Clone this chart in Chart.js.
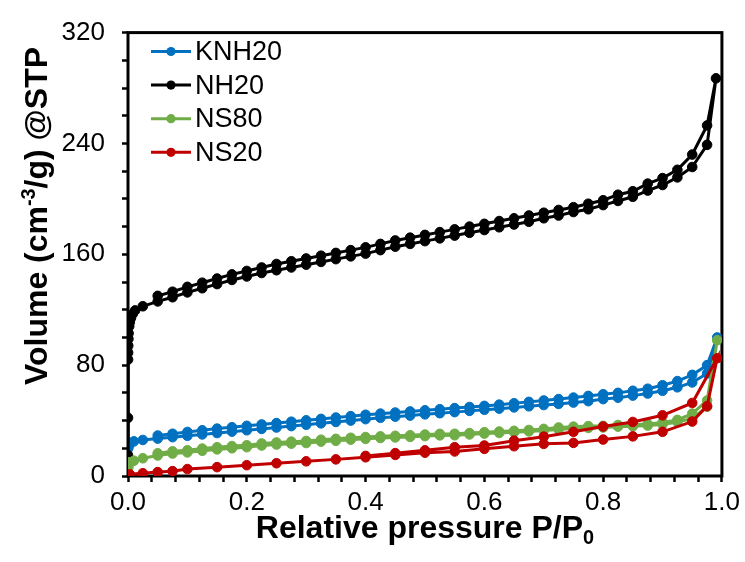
<!DOCTYPE html>
<html><head><meta charset="utf-8">
<script src="https://cdn.jsdelivr.net/npm/chart.js@4/dist/chart.umd.min.js"></script>
<style>html,body{margin:0;padding:0;background:#fff;overflow:hidden}</style>
</head><body>
<canvas id="c" width="745" height="562" style="width:745px;height:562px;display:block"></canvas>
<script>
// ---------- DATA ----------
const seriesNames = ['KNH20', 'NH20', 'NS80', 'NS20'];
const seriesColors = ['#0070C0', '#000000', '#70AD47', '#C00000'];
const xTickLabels = ['0.0', '0.2', '0.4', '0.6', '0.8', '1.0'];
const yTickLabels = ['0', '80', '160', '240', '320'];

// KNH20 adsorption / desorption
const knh20AdsP = [0.0005, 0.002, 0.005, 0.01, 0.025, 0.05, 0.075, 0.1, 0.125, 0.15, 0.175, 0.2, 0.225, 0.25, 0.275, 0.3, 0.325, 0.35, 0.375, 0.4, 0.425, 0.45, 0.475, 0.5, 0.525, 0.55, 0.575, 0.6, 0.625, 0.65, 0.675, 0.7, 0.725, 0.75, 0.775, 0.8, 0.825, 0.85, 0.875, 0.9, 0.925, 0.95, 0.975, 0.992];
const knh20AdsV = [20, 22.5, 24, 25, 26, 27, 28, 29, 30, 31, 32, 33, 34, 35, 36, 37, 38, 39, 40, 41, 42, 42.8, 43.6, 44.5, 45.3, 46.1, 47, 47.8, 48.6, 49.5, 50.3, 51.2, 52, 53, 54, 55.5, 56.5, 58, 59.5, 61.5, 64, 67.5, 74, 100];
const knh20DesP = [0.975, 0.95, 0.925, 0.9, 0.875, 0.85, 0.825, 0.8, 0.775, 0.75, 0.725, 0.7, 0.675, 0.65, 0.625, 0.6, 0.575, 0.55, 0.525, 0.5, 0.475, 0.45, 0.425, 0.4, 0.375, 0.35, 0.325, 0.3, 0.275, 0.25, 0.225, 0.2, 0.175, 0.15, 0.125, 0.1, 0.075, 0.05];
const knh20DesV = [80, 73, 68.5, 65.5, 63, 61.5, 60, 59, 57.8, 56.6, 55.5, 54.5, 53.5, 52.5, 51.5, 50.6, 49.8, 49, 48.2, 47.4, 46.6, 45.8, 45, 44.2, 43.2, 42.2, 41.2, 40.2, 39.2, 38.2, 37.2, 36.2, 35.2, 34.2, 33, 31.8, 30.5, 29.2];

// NH20 adsorption / desorption
const nh20AdsP = [0.00001, 0.00003, 0.0001, 0.0002, 0.0004, 0.0007, 0.001, 0.002, 0.003, 0.005, 0.008, 0.012, 0.025, 0.05, 0.075, 0.1, 0.125, 0.15, 0.175, 0.2, 0.225, 0.25, 0.275, 0.3, 0.325, 0.35, 0.375, 0.4, 0.425, 0.45, 0.475, 0.5, 0.525, 0.55, 0.575, 0.6, 0.625, 0.65, 0.675, 0.7, 0.725, 0.75, 0.775, 0.8, 0.825, 0.85, 0.875, 0.9, 0.925, 0.95, 0.975, 0.99];
const nh20AdsV = [15, 42, 84, 89, 94, 99, 103, 108, 111, 114, 117, 119.5, 122.5, 126, 129, 132.5, 135.5, 138.5, 141.5, 144, 146.5, 148.5, 150.5, 152.5, 154.5, 156.5, 158.5, 160.5, 163, 165.5, 167.5, 169.5, 171.5, 173.5, 175.5, 177.5, 179.5, 181.5, 183.5, 186, 188, 190.5, 192.5, 195.5, 198.5, 201.5, 206, 210, 215.5, 223, 239, 287];
const nh20DesP = [0.975, 0.95, 0.925, 0.9, 0.875, 0.85, 0.825, 0.8, 0.775, 0.75, 0.725, 0.7, 0.675, 0.65, 0.625, 0.6, 0.575, 0.55, 0.525, 0.5, 0.475, 0.45, 0.425, 0.4, 0.375, 0.35, 0.325, 0.3, 0.275, 0.25, 0.225, 0.2, 0.175, 0.15, 0.125, 0.1, 0.075, 0.05];
const nh20DesV = [253, 232, 221, 215, 211, 205.5, 203, 199, 196.5, 194, 192, 190, 188, 186, 184, 182, 180, 178, 176, 174, 172, 170, 167.5, 165, 163, 161, 159, 157, 155, 153, 150.5, 148, 145.5, 142.5, 139.5, 136.5, 133, 130];

// NS80 adsorption / desorption
const ns80AdsP = [0.0005, 0.001, 0.003, 0.01, 0.025, 0.05, 0.075, 0.1, 0.125, 0.15, 0.175, 0.2, 0.225, 0.25, 0.275, 0.3, 0.325, 0.35, 0.375, 0.4, 0.425, 0.45, 0.475, 0.5, 0.525, 0.55, 0.575, 0.6, 0.625, 0.65, 0.675, 0.7, 0.725, 0.75, 0.775, 0.8, 0.825, 0.85, 0.875, 0.9, 0.925, 0.95, 0.975, 0.992];
const ns80AdsV = [6, 8, 10, 11, 12.8, 14.8, 16.2, 17, 18.2, 19.2, 20, 20.8, 22, 22.7, 23.3, 23.8, 24.8, 25.4, 26.2, 26.8, 27.4, 27.8, 28.2, 28.8, 29.3, 29.4, 30, 30.6, 31.1, 31.6, 32.2, 32.8, 33.5, 34.2, 34.7, 35, 35.6, 35.9, 36.4, 37.2, 39, 41.5, 50, 98];
const ns80DesP = [0.975, 0.95, 0.925, 0.9, 0.875, 0.85, 0.825, 0.8, 0.775, 0.75, 0.725, 0.7, 0.675, 0.65, 0.625, 0.6, 0.575, 0.55, 0.525, 0.5, 0.475, 0.45, 0.425, 0.4, 0.375, 0.35, 0.325, 0.3, 0.275, 0.25, 0.225, 0.2, 0.175, 0.15, 0.125, 0.1, 0.075, 0.05];
const ns80DesV = [54.5, 45, 40.5, 38.6, 37.6, 37, 36.8, 36.2, 36, 35.6, 35, 34, 33.2, 32.6, 32.1, 31.6, 31, 30.5, 30.4, 29.9, 29.4, 29, 28.6, 28.1, 27.6, 26.8, 26.2, 25.3, 24.8, 24.2, 23.5, 22.2, 21.6, 20.8, 19.8, 18.6, 17.8, 16.4];

// NS20 adsorption / desorption
const ns20AdsP = [0.0005, 0.003, 0.025, 0.05, 0.075, 0.1, 0.15, 0.2, 0.25, 0.3, 0.35, 0.4, 0.45, 0.5, 0.55, 0.6, 0.65, 0.7, 0.75, 0.8, 0.85, 0.9, 0.95, 0.975, 0.992];
const ns20AdsV = [0.5, 1.2, 2, 2.8, 3.5, 5, 6.4, 7.8, 9.2, 10.6, 12, 13.5, 15.2, 16.8, 17.7, 19.6, 21.5, 23.2, 23.9, 26.3, 28.6, 31.9, 39.3, 50.4, 85];
const ns20DesP = [0.95, 0.9, 0.85, 0.8, 0.75, 0.7, 0.65, 0.6, 0.55, 0.5, 0.45, 0.4];
const ns20DesV = [52.7, 43.8, 39, 35.7, 31.9, 28.4, 25.5, 22, 20.8, 18.5, 16.5, 14.5];

// ---------- BUILD ----------
function loop(aP, aV, dP, dV) {
  const pts = [];
  aP.forEach((p, i) => pts.push({x: p, y: aV[i]}));
  dP.forEach((p, i) => pts.push({x: p, y: dV[i]}));
  return pts;
}
const loops = [
  loop(knh20AdsP, knh20AdsV, knh20DesP, knh20DesV),
  loop(nh20AdsP, nh20AdsV, nh20DesP, nh20DesV),
  loop(ns80AdsP, ns80AdsV, ns80DesP, ns80DesV),
  loop(ns20AdsP, ns20AdsV, ns20DesP, ns20DesV)
];

const FONT = "'Liberation Sans', Arial, sans-serif";
const TICK_SIZE = 26;
const LEGEND_SIZE = 27;
const TITLE_SIZE = 32;

const datasets = seriesNames.map((name, i) => ({
  label: name,
  data: loops[i],
  showLine: true,
  borderColor: seriesColors[i],
  backgroundColor: seriesColors[i],
  pointBackgroundColor: seriesColors[i],
  pointBorderColor: seriesColors[i],
  borderWidth: 3,
  pointRadius: 4.8,
  pointBorderWidth: 1,
  pointStyle: 'circle',
  tension: 0,
  order: seriesNames.length - i
}));

function drawRich(ctx, parts, size, bold) {
  const w = parts.map(p => {
    ctx.font = (bold ? 'bold ' : '') + (size * (p.s || 1)) + 'px ' + FONT;
    return ctx.measureText(p.t).width;
  });
  const total = w.reduce((a, b) => a + b, 0);
  let x = -total / 2;
  parts.forEach((p, i) => {
    ctx.font = (bold ? 'bold ' : '') + (size * (p.s || 1)) + 'px ' + FONT;
    ctx.fillText(p.t, x, (p.dy || 0) * size);
    x += w[i];
  });
}

const framePlugin = {
  id: 'frame',
  beforeDatasetsDraw(chart) {
    const a = chart.chartArea, ctx = chart.ctx;
    ctx.save();
    ctx.strokeStyle = '#000';
    ctx.lineWidth = 3;
    ctx.strokeRect(a.left, a.top, a.right - a.left, a.bottom - a.top);
    ctx.restore();
  },
  afterDraw(chart) {
    const ctx = chart.ctx, a = chart.chartArea;
    ctx.save();
    ctx.fillStyle = '#000';
    ctx.textBaseline = 'alphabetic';
    // x title
    ctx.save();
    ctx.translate((a.left + a.right) / 2, 538);
    drawRich(ctx, [{t: 'Relative pressure P/P'}, {t: '0', s: 0.62, dy: 0.2}], TITLE_SIZE, true);
    ctx.restore();
    // y title
    ctx.save();
    ctx.translate(47, 216);
    ctx.rotate(-Math.PI / 2);
    drawRich(ctx, [{t: 'Volume (cm'}, {t: '-3', s: 0.62, dy: -0.36}, {t: '/g) @STP'}], TITLE_SIZE, true);
    ctx.restore();
    // legend
    const lx0 = 151, lx1 = 191, ly0 = 51.5, ldy = 33.6;
    chart.data.datasets.forEach((ds, i) => {
      const y = ly0 + i * ldy;
      ctx.strokeStyle = ds.borderColor;
      ctx.lineWidth = 3;
      ctx.beginPath(); ctx.moveTo(lx0, y); ctx.lineTo(lx1, y); ctx.stroke();
      ctx.fillStyle = ds.borderColor;
      ctx.beginPath(); ctx.arc((lx0 + lx1) / 2, y, 4.6, 0, Math.PI * 2); ctx.fill();
      ctx.fillStyle = '#000';
      ctx.font = LEGEND_SIZE + 'px ' + FONT;
      ctx.textBaseline = 'middle';
      ctx.fillText(ds.label, 195, y + 1);
    });
    ctx.restore();
  }
};

new Chart(document.getElementById('c'), {
  type: 'scatter',
  data: {datasets},
  plugins: [framePlugin],
  options: {
    responsive: false,
    animation: false,
    devicePixelRatio: 1,
    layout: {padding: {left: 0, right: 21, top: 25, bottom: 0}},
    plugins: {legend: {display: false}, tooltip: {enabled: false}},
    scales: {
      x: {
        type: 'linear', min: 0, max: 1,
        border: {display: false},
        grid: {drawOnChartArea: false, drawTicks: true, tickLength: 6, tickColor: '#000', tickWidth: 2.5},
        ticks: {
          stepSize: 0.04, autoSkip: false, maxTicksLimit: 100, maxRotation: 0, minRotation: 0,
          color: '#000', font: {family: FONT, size: TICK_SIZE}, padding: 5,
          callback: (v) => { const k = Math.round(v / 0.2); return Math.abs(v - k * 0.2) < 1e-6 ? xTickLabels[k] : ''; }
        },
        afterFit: (s) => { s.height = 86; }
      },
      y: {
        type: 'linear', min: 0, max: 320,
        border: {display: false},
        grid: {drawOnChartArea: false, drawTicks: true, tickLength: 6, tickColor: '#000', tickWidth: 2.5},
        ticks: {
          stepSize: 20, autoSkip: false, maxTicksLimit: 100,
          color: '#000', font: {family: FONT, size: TICK_SIZE}, padding: 17,
          callback: (v) => { const k = Math.round(v / 80); return Math.abs(v - k * 80) < 1e-6 ? yTickLabels[k] : ''; }
        },
        afterFit: (s) => { s.width = 128; }
      }
    }
  }
});
</script>
</body></html>
